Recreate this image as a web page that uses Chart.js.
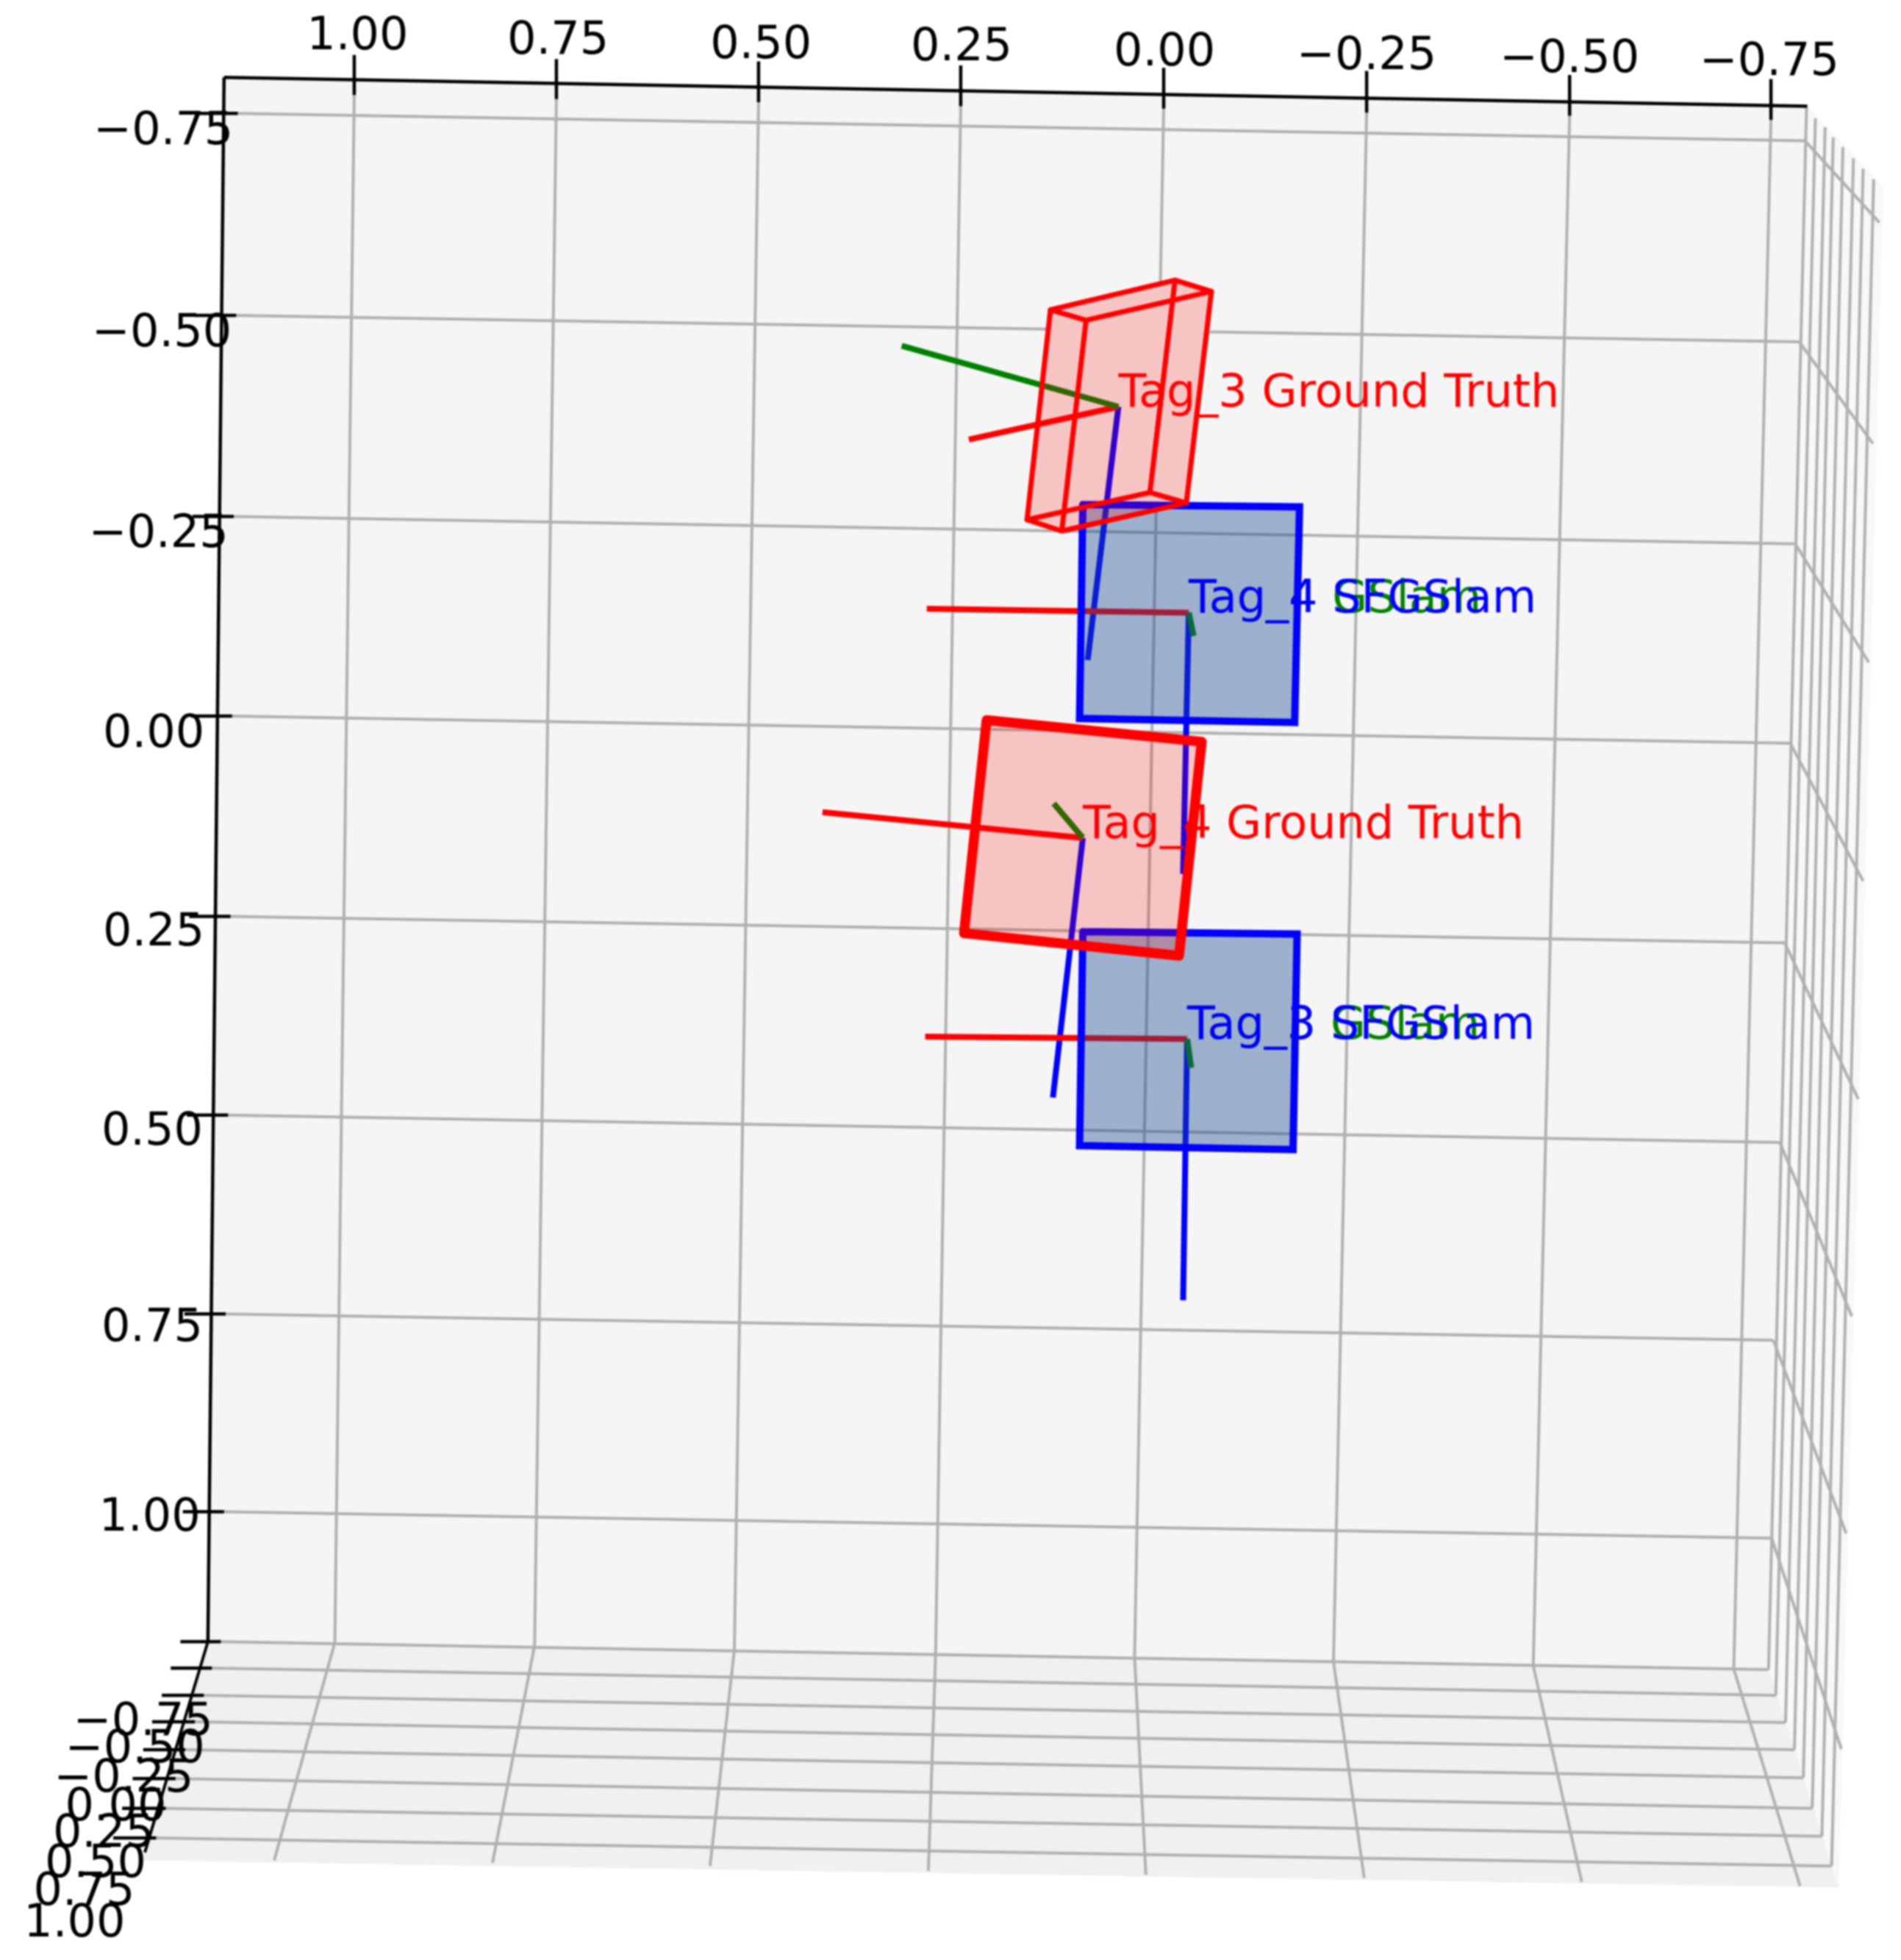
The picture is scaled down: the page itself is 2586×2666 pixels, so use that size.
<!DOCTYPE html>
<html><head><meta charset="utf-8">
<style>html,body{margin:0;padding:0;background:#fff}canvas{display:block;filter:blur(1.1px)}</style>
<script src="https://cdn.jsdelivr.net/npm/chart.js@4/dist/chart.umd.min.js"></script>
</head><body>
<canvas id="c" width="2586" height="2666"></canvas>
<script>
// ---- tick labels ----
const xTickLabels=['1.00','0.75','0.50','0.25','0.00','\u22120.25','\u22120.50','\u22120.75'];
const yTickLabels=['\u22120.75','\u22120.50','\u22120.25','0.00','0.25','0.50','0.75','1.00'];
const zTickLabels=['\u22120.75','\u22120.50','\u22120.25','0.00','0.25','0.50','0.75','1.00'];
// ---- panes, in view units read against the top (x) and left (y) axes ----
const wallPane=[[1.162,-0.797],[-0.796,-0.761],[-0.748,1.190],[1.182,1.155]];
const floorPane=[[1.182,1.155],[-0.748,1.190],[-0.835,1.462],[1.264,1.428]];
const sidePane=[[-0.796,-0.761],[-0.890,-0.661],[-0.835,1.462],[-0.748,1.190]];
// ---- grid ----
const xGridTop=[[1.001,-0.775],[0.751,-0.770],[0.501,-0.766],[0.251,-0.761],[0.000,-0.758],[-0.251,-0.753],[-0.502,-0.749],[-0.751,-0.744]];
const xGridWallFoot=[[1.025,1.156],[0.778,1.160],[0.531,1.166],[0.282,1.170],[0.036,1.175],[-0.210,1.180],[-0.457,1.185],[-0.705,1.189]];
const xGridFloorEnd=[[1.100,1.428],[0.830,1.431],[0.561,1.435],[0.291,1.441],[0.022,1.446],[-0.248,1.450],[-0.517,1.455],[-0.787,1.460]];
const yGridLeft=[[1.145,-0.752],[1.147,-0.500],[1.150,-0.249],[1.152,0.000],[1.154,0.250],[1.157,0.498],[1.160,0.746],[1.162,0.993]];
const yGridMid=[[-0.793,-0.718],[-0.786,-0.467],[-0.781,-0.215],[-0.775,0.034],[-0.768,0.283],[-0.762,0.532],[-0.754,0.779],[-0.752,1.026]];
const yGridSideEnd=[[-0.885,-0.616],[-0.877,-0.340],[-0.872,-0.067],[-0.865,0.206],[-0.859,0.478],[-0.851,0.749],[-0.844,1.020],[-0.838,1.289]];
const zGridSideTop=[[-0.795,-0.759],[-0.806,-0.746],[-0.818,-0.735],[-0.828,-0.722],[-0.840,-0.710],[-0.853,-0.696],[-0.865,-0.683],[-0.878,-0.670]];
const zGridSideFoot=[[-0.748,1.190],[-0.757,1.222],[-0.769,1.256],[-0.780,1.290],[-0.791,1.325],[-0.802,1.363],[-0.814,1.398],[-0.826,1.435]];
const zGridFloorLeft=[[1.166,1.155],[1.177,1.188],[1.187,1.222],[1.198,1.255],[1.210,1.290],[1.222,1.326],[1.234,1.363],[1.246,1.400]];
// ---- axes lines and ticks ----
const topAxisLine=[[1.162,-0.797],[-0.796,-0.761]];
const leftAxisLine=[[1.162,-0.797],[1.182,1.155]];
const depthAxisLine=[[1.182,1.155],[1.260,1.418]];
const xTickTop=[[1.001,-0.825],[0.751,-0.820],[0.501,-0.817],[0.251,-0.812],[0.000,-0.809],[-0.251,-0.805],[-0.502,-0.800],[-0.751,-0.795]];
const yTickOuter=[[1.196,-0.752],[1.198,-0.500],[1.201,-0.249],[1.203,0.000],[1.205,0.250],[1.208,0.498],[1.211,0.746],[1.213,0.993]];
const zTickOuter=[[1.216,1.155],[1.228,1.188],[1.239,1.222],[1.251,1.255],[1.262,1.290],[1.275,1.326],[1.288,1.363],[1.299,1.400]];
// ---- tag poses (origin and the three frame-axis tips) ----
const tagNames=['Tag_3 Ground Truth','Tag_4 Ground Truth','Tag_4 GSlam','Tag_4 SFGSlam','Tag_3 GSlam','Tag_3 SFGSlam'];
const tag3GtOrigin=[0.056,-0.386], tag3GtRed=[0.241,-0.345], tag3GtGreen=[0.324,-0.462], tag3GtBlue=[0.094,-0.070];
const tag4GtOrigin=[0.100,0.152], tag4GtRed=[0.422,0.120], tag4GtGreen=[0.136,0.109], tag4GtBlue=[0.137,0.476];
const tag4SfgOrigin=[-0.031,-0.129], tag4SfgRed=[0.293,-0.134], tag4SfgGreen=[-0.037,-0.100], tag4SfgBlue=[-0.024,0.197];
const tag3SfgOrigin=[-0.029,0.403], tag3SfgRed=[0.295,0.400], tag3SfgGreen=[-0.034,0.439], tag3SfgBlue=[-0.024,0.729];
// ---- tag outlines ----
const tag3GtTop=[[0.140,-0.507],[-0.014,-0.544],[-0.059,-0.530],[0.096,-0.494]];
const tag3GtBottom=[[0.169,-0.245],[0.017,-0.279],[-0.028,-0.266],[0.126,-0.231]];
const tag3GtHull=[[0.140,-0.507],[-0.014,-0.544],[-0.059,-0.530],[-0.028,-0.266],[0.126,-0.231],[0.169,-0.245]];
const tag4SfgBox=[[0.100,-0.264],[-0.168,-0.261],[-0.162,0.008],[0.104,0.003]];
const tag3SfgBox=[[0.100,0.269],[-0.165,0.272],[-0.160,0.541],[0.104,0.536]];
const tag4GtBox=[[0.219,0.005],[-0.047,0.032],[-0.019,0.299],[0.247,0.271]];
// ---- tick-label anchors ----
const xLabelAt=[[0.997,-0.853],[0.749,-0.847],[0.498,-0.842],[0.250,-0.839],[-0.001,-0.833],[-0.251,-0.828],[-0.502,-0.824],[-0.749,-0.821]];
const yLabelAt=[[1.237,-0.734],[1.239,-0.482],[1.243,-0.232],[1.249,0.018],[1.249,0.266],[1.251,0.514],[1.251,0.759],[1.254,0.996]];
const zLabelAt=[[1.262,1.251],[1.272,1.285],[1.286,1.322],[1.296,1.357],[1.311,1.390],[1.321,1.428],[1.335,1.463],[1.347,1.502]];

// ---- styles ----
const RED='#ff0000',BLUE='#0000ff',GREEN='#008000',GRID='#b0b0b0',BLACK='#000000';
const pt=p=>({x:p[0],y:p[1]});
const painted=[];
function seg(a,b,color,width){painted.push({data:[pt(a),pt(b)],borderColor:color,borderWidth:width,showLine:true,pointRadius:0,fill:false,borderCapStyle:'butt'});}
function poly(points,edge,width,fillColor,join){
  const closed=points.concat([points[0],points[1]]).map(pt);
  painted.push({data:fillColor?points.concat([points[0]]).map(pt):closed,borderColor:edge||'rgba(0,0,0,0)',borderWidth:edge?width:0,showLine:true,pointRadius:0,
    fill:fillColor?'shape':false,backgroundColor:fillColor||'rgba(0,0,0,0)',borderJoinStyle:join||'miter',borderCapStyle:'round'});
}
// panes
poly(sidePane,null,0,'#f8f8f8');
poly(floorPane,null,0,'#f0f0f0');
poly(wallPane,null,0,'#f5f5f5');
// grid
const GW=4;
for(let i=0;i<8;i++){
  seg(xGridTop[i],xGridWallFoot[i],GRID,GW);
  seg(xGridWallFoot[i],xGridFloorEnd[i],GRID,GW);
  seg(yGridLeft[i],yGridMid[i],GRID,GW);
  seg(yGridMid[i],yGridSideEnd[i],GRID,GW);
  seg(zGridSideTop[i],zGridSideFoot[i],GRID,GW);
  seg(zGridFloorLeft[i],zGridSideFoot[i],GRID,GW);
}
// axis lines and ticks
seg(topAxisLine[0],topAxisLine[1],BLACK,4.5);
seg(leftAxisLine[0],leftAxisLine[1],BLACK,4.5);
seg(depthAxisLine[0],depthAxisLine[1],BLACK,4);
for(let i=0;i<8;i++){
  seg(xTickTop[i],xGridTop[i],BLACK,4.5);
  seg(yTickOuter[i],yGridLeft[i],BLACK,4.5);
  seg(zTickOuter[i],zGridFloorLeft[i],BLACK,4.5);
}
// Tag_3 solid hides the grid behind it
poly(tag3GtHull,null,0,'#f5f5f5');
// pose axes
const AW=8;
[[tag3GtOrigin,tag3GtBlue,tag3GtRed,tag3GtGreen],[tag4GtOrigin,tag4GtBlue,tag4GtRed,tag4GtGreen],
 [tag4SfgOrigin,tag4SfgBlue,tag4SfgRed,tag4SfgGreen],[tag3SfgOrigin,tag3SfgBlue,tag3SfgRed,tag3SfgGreen]].forEach(t=>{
  seg(t[0],t[1],BLUE,AW);seg(t[0],t[2],RED,AW);seg(t[0],t[3],GREEN,AW);
});
// SFGSlam tags
poly(tag4SfgBox,BLUE,10,'rgba(25,72,145,0.4)');
poly(tag3SfgBox,BLUE,10,'rgba(25,72,145,0.4)');
// ground-truth tags
poly(tag3GtHull,null,0,'rgba(255,0,0,0.2)');
poly(tag3GtTop,RED,7,null,'round');
poly(tag3GtBottom,RED,7,null,'round');
for(let i=0;i<4;i++) seg(tag3GtTop[i],tag3GtBottom[i],RED,7);
poly(tag4GtBox,RED,13.5,'rgba(255,0,0,0.2)','round');

const textPlugin={id:'texts',afterDatasetsDraw(chart){
  const {ctx,scales:{x,y}}=chart;
  ctx.save();
  ctx.font='62px "DejaVu Sans"';
  ctx.textBaseline='alphabetic';
  ctx.fillStyle=BLACK;ctx.textAlign='center';
  const put=(labels,at)=>labels.forEach((t,i)=>ctx.fillText(t,x.getPixelForValue(at[i][0]),y.getPixelForValue(at[i][1])+22.5));
  put(xTickLabels,xLabelAt);put(yTickLabels,yLabelAt);put(zTickLabels,zLabelAt);
  ctx.textAlign='left';
  const tag=(i,o,c)=>{ctx.fillStyle=c;ctx.fillText(tagNames[i],x.getPixelForValue(o[0]),y.getPixelForValue(o[1]));};
  tag(2,tag4SfgOrigin,GREEN);tag(3,tag4SfgOrigin,BLUE);
  tag(4,tag3SfgOrigin,GREEN);tag(5,tag3SfgOrigin,BLUE);
  tag(0,tag3GtOrigin,RED);tag(1,tag4GtOrigin,RED);
  ctx.restore();
}};

new Chart(document.getElementById('c'),{
  type:'scatter',
  data:{datasets:painted.slice().reverse()},
  options:{responsive:false,animation:false,devicePixelRatio:1,
    layout:{padding:0},
    plugins:{legend:{display:false},tooltip:{enabled:false},title:{display:false}},
    elements:{line:{tension:0}},
    scales:{
      x:{type:'linear',display:false,reverse:true,min:-0.91182,max:1.43909},
      y:{type:'linear',display:false,reverse:true,min:-0.89358,max:1.55229}
    }},
  plugins:[textPlugin]
});
</script>
</body></html>
